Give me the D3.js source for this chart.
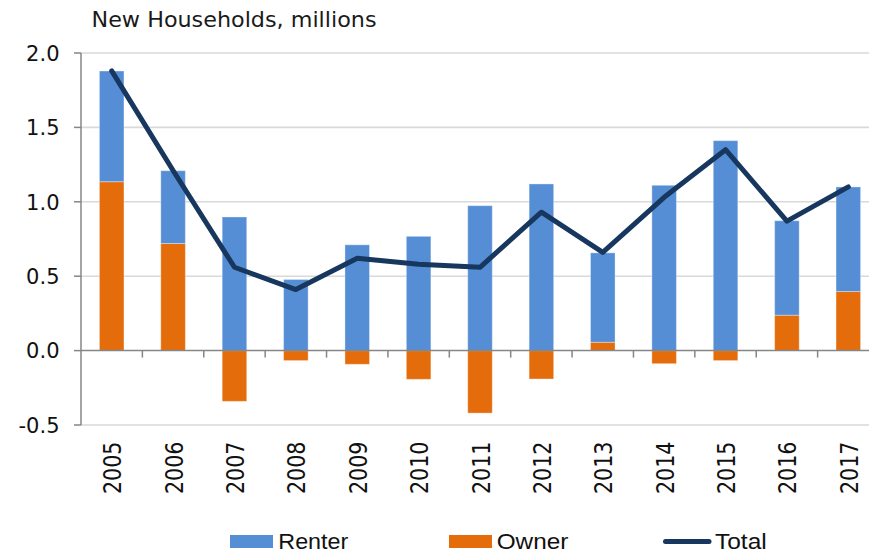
<!DOCTYPE html>
<html>
<head>
<meta charset="utf-8">
<script src="https://cdn.jsdelivr.net/npm/d3@7"></script>
<style>
  html, body { margin: 0; padding: 0; background: #fff; }
  svg { display: block; }
</style>
</head>
<body>
<svg id="chart" width="869" height="554"></svg>
<script>
// ---- data ----
const years = ["2005","2006","2007","2008","2009","2010","2011","2012","2013","2014","2015","2016","2017"];
const renter = [0.744, 0.489, 0.898, 0.478, 0.711, 0.768, 0.974, 1.120, 0.601, 1.111, 1.411, 0.635, 0.703];
const owner  = [1.135, 0.720, -0.341, -0.067, -0.092, -0.193, -0.420, -0.191, 0.056, -0.088, -0.067, 0.238, 0.397];
const total  = [1.88, 1.21, 0.56, 0.41, 0.62, 0.58, 0.56, 0.93, 0.66, 1.03, 1.35, 0.87, 1.10];
const yTickValues = [-0.5, 0, 0.5, 1.0, 1.5, 2.0];
const yTickLabels = ["-0.5", "0.0", "0.5", "1.0", "1.5", "2.0"];
const seriesNames = ["Renter", "Owner", "Total"];
const title = "New Households, millions";

(function () {
// ---- layout ----
const svg = d3.select("#chart");
const pLeft = 81, pRight = 879, pTop = 53, pBottom = 425;
const colors = { renter: "#558ED5", owner: "#E46C0A", total: "#17375E" };

const x = d3.scaleBand().domain(years).range([pLeft, pRight]).padding(0);
const y = d3.scaleLinear().domain([-0.5, 2.0]).range([pBottom, pTop]);
const barW = x.bandwidth() * 0.4;

// gridlines
svg.append("g").selectAll("line").data(yTickValues.filter(v => v !== 0)).join("line")
  .attr("x1", pLeft).attr("x2", pRight)
  .attr("y1", d => y(d)).attr("y2", d => y(d))
  .attr("stroke", "#d9d9d9").attr("stroke-width", 1.6);

// stacked bars
const table = years.map((yr, i) => ({ year: yr, owner: owner[i], renter: renter[i] }));
const stack = d3.stack().keys(["owner", "renter"]).offset(d3.stackOffsetDiverging);
const layers = stack(table);

svg.append("g").selectAll("g").data(layers).join("g")
  .attr("fill", d => colors[d.key])
  .selectAll("rect").data(d => d).join("rect")
  .attr("x", d => x(d.data.year) + x.bandwidth() / 2 - barW / 2)
  .attr("width", barW)
  .attr("y", d => y(Math.max(d[0], d[1])))
  .attr("height", d => Math.abs(y(d[0]) - y(d[1])))
  .attr("stroke", "#ffffff").attr("stroke-opacity", 0.35).attr("stroke-width", 1);

// zero axis line with ticks between categories
const axisColor = "#868686";
svg.append("line")
  .attr("x1", pLeft).attr("x2", pRight)
  .attr("y1", y(0)).attr("y2", y(0))
  .attr("stroke", axisColor).attr("stroke-width", 1.5);
svg.append("g").selectAll("line").data(years.slice(1)).join("line")
  .attr("x1", d => x(d)).attr("x2", d => x(d))
  .attr("y1", y(0)).attr("y2", y(0) + 7)
  .attr("stroke", axisColor).attr("stroke-width", 1.5);

// y axis
svg.append("line")
  .attr("x1", pLeft).attr("x2", pLeft)
  .attr("y1", y(2.0)).attr("y2", y(-0.5))
  .attr("stroke", axisColor).attr("stroke-width", 1.5);
svg.append("g").selectAll("line").data(yTickValues).join("line")
  .attr("x1", pLeft - 7).attr("x2", pLeft)
  .attr("y1", d => y(d)).attr("y2", d => y(d))
  .attr("stroke", axisColor).attr("stroke-width", 1.5);
svg.append("g").selectAll("text").data(yTickValues).join("text")
  .attr("x", 59.5).attr("y", d => y(d))
  .attr("dy", "0.37em")
  .attr("text-anchor", "end")
  .attr("font-family", "DejaVu Sans, Verdana, sans-serif")
  .attr("font-size", 21)
  .attr("fill", "#111")
  .text((d, i) => yTickLabels[i]);

// x labels (rotated)
svg.append("g").selectAll("text").data(years).join("text")
  .attr("transform", d => `translate(${x(d) + x.bandwidth() / 2 + 9.5},441.5) rotate(-90)`)
  .attr("text-anchor", "end")
  .attr("font-family", "DejaVu Sans, Verdana, sans-serif")
  .attr("font-size", 25)
  .attr("textLength", 52.5)
  .attr("lengthAdjust", "spacingAndGlyphs")
  .attr("fill", "#111")
  .text(d => d);

// total line
const line = d3.line()
  .x((d, i) => x(years[i]) + x.bandwidth() / 2)
  .y(d => y(d));
svg.append("path")
  .datum(total)
  .attr("d", line)
  .attr("fill", "none")
  .attr("stroke", colors.total)
  .attr("stroke-width", 5)
  .attr("stroke-linejoin", "round")
  .attr("stroke-linecap", "round");

// title
svg.append("text")
  .attr("x", 91.5).attr("y", 26.7)
  .attr("font-family", "DejaVu Sans, Verdana, sans-serif")
  .attr("font-size", 21.5)
  .attr("textLength", 285)
  .attr("lengthAdjust", "spacingAndGlyphs")
  .attr("fill", "#1a1a1a")
  .text(title);

// legend
const legend = svg.append("g");
const legFont = "Liberation Sans, Arial, sans-serif";
const legSize = 22;
const legBase = 549;
legend.append("rect").attr("x", 230).attr("y", 535).attr("width", 43).attr("height", 13).attr("fill", colors.renter);
legend.append("text").attr("x", 278.3).attr("y", legBase).attr("font-family", legFont).attr("font-size", legSize)
  .attr("textLength", 70).attr("lengthAdjust", "spacingAndGlyphs").attr("fill", "#111").text(seriesNames[0]);
legend.append("rect").attr("x", 449).attr("y", 535).attr("width", 43).attr("height", 13).attr("fill", colors.owner);
legend.append("text").attr("x", 496.7).attr("y", legBase).attr("font-family", legFont).attr("font-size", legSize)
  .attr("textLength", 71.6).attr("lengthAdjust", "spacingAndGlyphs").attr("fill", "#111").text(seriesNames[1]);
legend.append("line").attr("x1", 665.5).attr("x2", 709).attr("y1", 541.5).attr("y2", 541.5)
  .attr("stroke", colors.total).attr("stroke-width", 5).attr("stroke-linecap", "round");
legend.append("text").attr("x", 715).attr("y", legBase).attr("font-family", legFont).attr("font-size", legSize)
  .attr("textLength", 51.7).attr("lengthAdjust", "spacingAndGlyphs").attr("fill", "#111").text(seriesNames[2]);
})();
</script>
</body>
</html>
